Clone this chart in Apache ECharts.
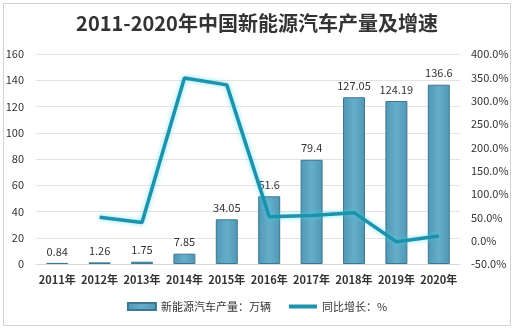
<!DOCTYPE html>
<html><head><meta charset="utf-8">
<script src="https://cdn.jsdelivr.net/npm/echarts@6/dist/echarts.min.js"></script>
<style>html,body{margin:0;padding:0;background:#fff}#c{width:514px;height:329px}</style>
</head><body><div id="c"></div>
<script>
const categories = ['2011年','2012年','2013年','2014年','2015年','2016年','2017年','2018年','2019年','2020年'];
const production = [0.84, 1.26, 1.75, 7.85, 34.05, 51.6, 79.4, 127.05, 124.19, 136.6];
const growth = [null, 50.0, 38.9, 348.6, 333.8, 51.5, 53.9, 60.0, -2.3, 10.0];
const barName = '新能源汽车产量：万辆';
const lineName = '同比增长：%';
const titleText = '2011-2020年中国新能源汽车产量及增速';

const chart = echarts.init(document.getElementById('c'));
const font = '"Noto Sans CJK SC", "Noto Sans", sans-serif';
chart.setOption({
  animation: false,
  textStyle: { fontFamily: font },
  graphic: [{ type: 'rect', shape: { x: 3.5, y: 3.5, width: 507, height: 322 }, style: { fill: 'none', stroke: '#d0d0d0', lineWidth: 1 } }],
  title: { text: titleText, left: 'center', top: 8, textStyle: { fontSize: 20, fontWeight: 'bold', color: '#333', fontFamily: font } },
  legend: {
    bottom: 12, left: 'center', itemGap: 18, itemWidth: 28, itemHeight: 7,
    textStyle: { fontSize: 11, color: '#333', fontFamily: font },
    data: [{ name: barName, icon: 'rect' }, { name: lineName, icon: 'path://M0,0H28V4H0Z' }]
  },
  grid: { left: 36, right: 54, top: 54, bottom: 65 },
  xAxis: {
    type: 'category', data: categories,
    axisLine: { lineStyle: { color: '#d9d9d9' } }, axisTick: { show: false },
    axisLabel: { fontSize: 11, color: '#333', margin: 10, fontWeight: 'bold', interval: 0 }
  },
  yAxis: [
    { type: 'value', min: 0, max: 160, interval: 20,
      axisLine: { show: false }, axisTick: { show: false },
      splitLine: { lineStyle: { color: '#e3e3e3' } },
      axisLabel: { fontSize: 11, color: '#333', margin: 12 } },
    { type: 'value', min: -50, max: 400, interval: 50,
      axisLine: { show: false }, axisTick: { show: false }, splitLine: { show: false },
      axisLabel: { fontSize: 11, color: '#333', margin: 11, formatter: v => v.toFixed(1) + '%' } }
  ],
  series: [
    { name: barName, type: 'bar', data: production, barWidth: 22,
      itemStyle: {
        color: new echarts.graphic.LinearGradient(0, 0, 1, 0, [
          { offset: 0, color: '#5197b4' }, { offset: 0.5, color: '#65aecb' }, { offset: 1, color: '#5197b4' }]),
        borderColor: '#3d7891', borderWidth: 1
      },
      label: { show: true, position: 'top', fontSize: 11, color: '#333', distance: 6 } },
    { name: lineName, type: 'line', yAxisIndex: 1, data: growth, symbol: 'none',
      lineStyle: { color: '#1f91ab', width: 3.5, shadowColor: 'rgba(60,220,240,0.7)', shadowBlur: 5 },
      itemStyle: { color: '#1f91ab' } }
  ]
});
</script></body></html>
